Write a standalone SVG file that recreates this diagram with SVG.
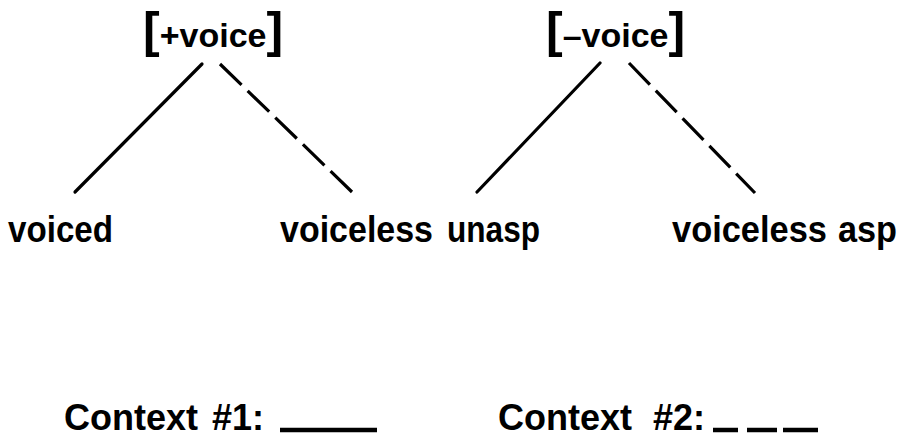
<svg xmlns="http://www.w3.org/2000/svg" width="903" height="438" viewBox="0 0 903 438">
<style>
text{font-family:"Liberation Sans",Arial,sans-serif;font-weight:bold;fill:#000}
.lbl{font-size:36px}
.br{font-size:50px}
.feat{font-size:34px}
.ln{stroke:#000;stroke-width:3.2;stroke-linecap:round;fill:none}
.dash{stroke-dasharray:30 8.5;stroke-linecap:butt}
.ul{stroke:#000;stroke-width:4.5;fill:none}
</style>
<rect width="903" height="438" fill="#fff"/>
<g id="connectors">
<line class="ln" x1="202" y1="64" x2="75" y2="192"/>
<line class="ln dash" x1="220" y1="64" x2="352" y2="192"/>
<line class="ln" x1="600" y1="63" x2="477" y2="192"/>
<line class="ln dash" x1="629" y1="63" x2="755" y2="193"/>
</g>
<g id="plus-voice"><text x="143" y="47"><tspan class="br">[</tspan><tspan class="feat">+voice</tspan><tspan class="br">]</tspan></text></g>
<g id="minus-voice"><text x="546" y="47"><tspan class="br">[</tspan><tspan class="feat">–voice</tspan><tspan class="br">]</tspan></text></g>
<g id="voiced"><text class="lbl" x="8" y="242" textLength="105" lengthAdjust="spacingAndGlyphs">voiced</text></g>
<g id="voiceless1"><text class="lbl" x="280" y="242" textLength="153" lengthAdjust="spacingAndGlyphs">voiceless</text></g>
<g id="unasp"><text class="lbl" x="447" y="242" textLength="93" lengthAdjust="spacingAndGlyphs">unasp</text></g>
<g id="voiceless2"><text class="lbl" x="672" y="242" textLength="155" lengthAdjust="spacingAndGlyphs">voiceless</text></g>
<g id="asp"><text class="lbl" x="838" y="242" textLength="59" lengthAdjust="spacingAndGlyphs">asp</text></g>
<g id="context1"><text class="lbl" y="430"><tspan x="64">Context</tspan> <tspan x="212">#1:</tspan></text>
<line class="ul" x1="280" y1="430" x2="377" y2="430"/></g>
<g id="context2"><text class="lbl" y="430"><tspan x="498">Context</tspan> <tspan x="653">#2:</tspan></text>
<line class="ul" x1="713" y1="430" x2="738" y2="430"/>
<line class="ul" x1="747" y1="430" x2="777" y2="430"/>
<line class="ul" x1="783" y1="430" x2="818" y2="430"/></g>
</svg>
